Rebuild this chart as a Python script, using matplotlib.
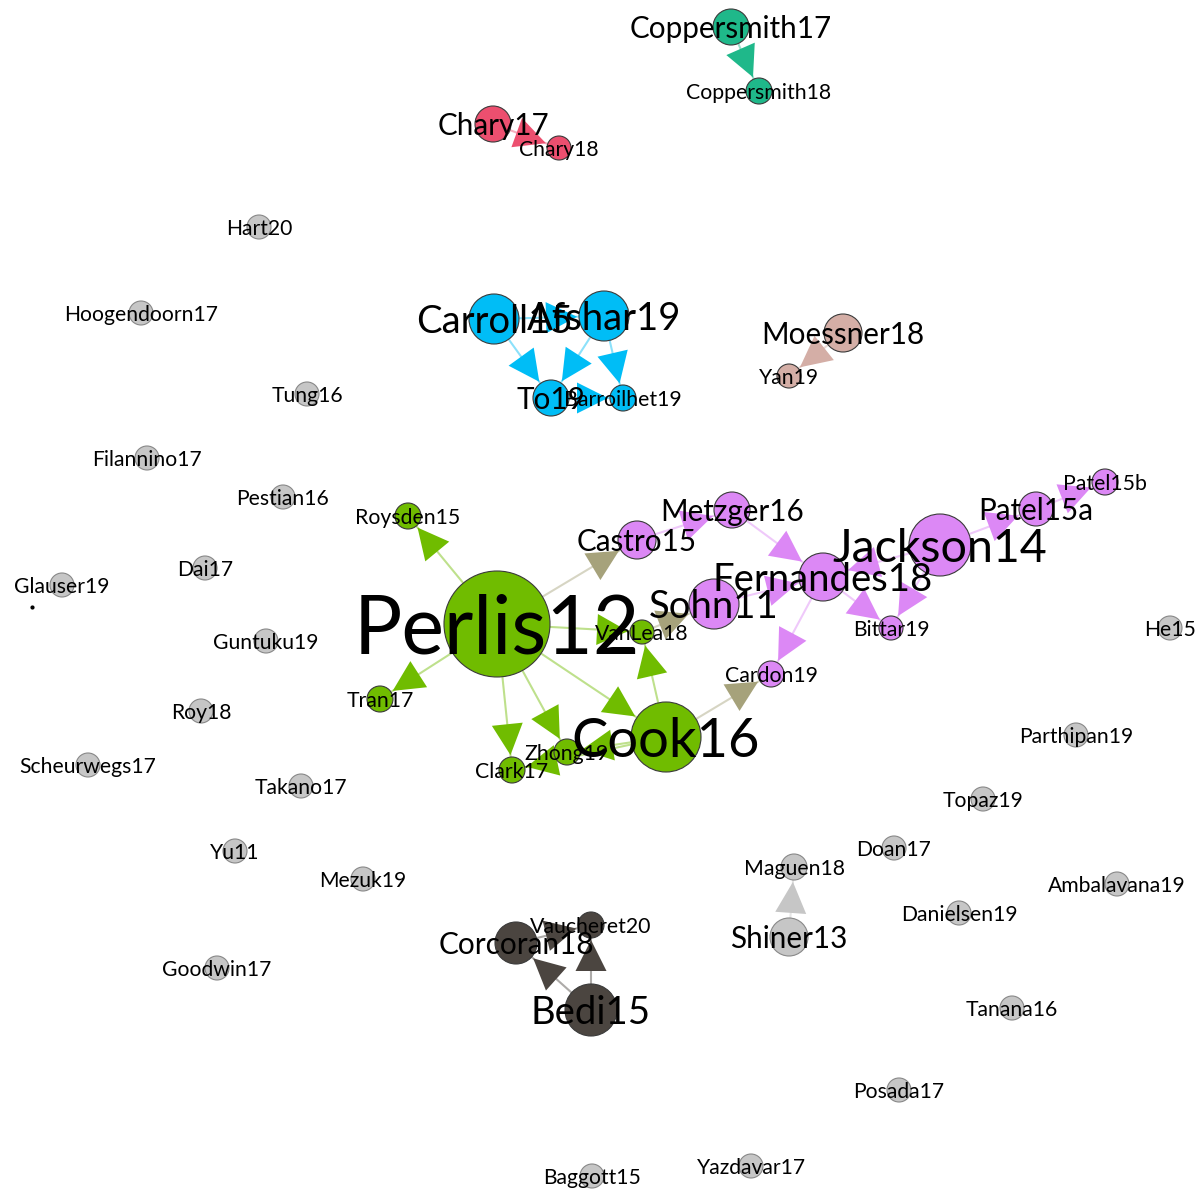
import numpy as np
import matplotlib.pyplot as plt
from matplotlib.patches import Circle, Polygon

# nodes: name, layout x/y (pixels), node size (radius), cluster
names = ["Coppersmith17", "Coppersmith18", "Chary17", "Chary18",
         "Carroll15", "Afshar19", "To19", "Barroilhet19",
         "Moessner18", "Yan19",
         "Perlis12", "Roysden15", "Tran17", "Clark17", "Zhong19", "VanLea18", "Cook16",
         "Castro15", "Metzger16", "Sohn11", "Fernandes18", "Jackson14",
         "Patel15a", "Patel15b", "Bittar19", "Cardon19",
         "Corcoran18", "Vaucheret20", "Bedi15",
         "Shiner13", "Maguen18",
         "Hart20", "Hoogendoorn17", "Tung16", "Filannino17", "Pestian16", "Dai17",
         "Glauser19", "Guntuku19", "Roy18", "Scheurwegs17", "Takano17", "Yu11",
         "Mezuk19", "Goodwin17", "Baggott15", "Yazdavar17", "Posada17", "Tanana16",
         "Danielsen19", "Ambalavana19", "Doan17", "Topaz19", "Parthipan19", "He15"]
xs = [731, 759, 493, 559,
      494, 604, 551, 623,
      843, 789,
      497, 408, 380, 512, 567, 642, 666,
      637, 732, 714, 823, 940,
      1036, 1105, 891, 771,
      516, 591, 591,
      789, 794,
      259, 141, 307, 147, 283, 205,
      62, 266, 201, 88, 301, 235,
      363, 217, 592, 751, 899, 1012,
      959, 1117, 894, 983, 1076, 1170]
ys = [27, 91, 124, 148,
      319, 316, 398, 398,
      333, 376,
      624, 516, 699, 770, 752, 632, 737,
      540, 510, 604, 577, 545,
      509, 482, 628, 674,
      943, 925, 1010,
      937, 867,
      227, 313, 394, 458, 497, 568,
      585, 641, 711, 765, 786, 851,
      879, 968, 1176, 1166, 1090, 1008,
      913, 884, 848, 799, 735, 628]
sizes = [18, 13, 18, 12,
         25, 25, 18, 13,
         19, 12,
         53, 13, 13, 13, 13, 12, 35,
         19, 18, 25, 24, 31,
         17, 13, 12, 13,
         21, 13, 26,
         19, 13] + [12] * 24
groups = ["teal"] * 2 + ["red"] * 2 + ["blue"] * 4 + ["rose"] * 2 + ["green"] * 7 \
    + ["purple"] * 9 + ["dark"] * 3 + ["gray"] * 26

# directed citations
src = ["Coppersmith17", "Chary17", "Carroll15", "Carroll15", "Afshar19", "Afshar19", "To19",
       "Moessner18", "Perlis12", "Perlis12", "Perlis12", "Perlis12", "Perlis12", "Perlis12",
       "Perlis12", "Cook16", "Cook16", "Cook16", "Cook16", "VanLea18", "Castro15", "Metzger16",
       "Sohn11", "Fernandes18", "Fernandes18", "Jackson14", "Jackson14", "Jackson14", "Patel15a",
       "Bedi15", "Bedi15", "Corcoran18", "Shiner13"]
dst = ["Coppersmith18", "Chary18", "Afshar19", "To19", "To19", "Barroilhet19", "Barroilhet19",
       "Yan19", "Roysden15", "Tran17", "Clark17", "Zhong19", "Cook16", "VanLea18",
       "Castro15", "VanLea18", "Zhong19", "Clark17", "Cardon19", "Sohn11", "Metzger16", "Fernandes18",
       "Fernandes18", "Cardon19", "Bittar19", "Fernandes18", "Bittar19", "Patel15a", "Patel15b",
       "Corcoran18", "Vaucheret20", "Vaucheret20", "Maguen18"]

colors = {"teal": "#1fb88a", "red": "#ec4f6f", "blue": "#00bdf6", "rose": "#d4aea6",
          "green": "#70bc00", "purple": "#dc88f5", "dark": "#4b4540", "gray": "#c6c6c6"}

pos = {n: (x, y) for n, x, y in zip(names, xs, ys)}
rad = dict(zip(names, sizes))
col = {n: np.array(plt.matplotlib.colors.to_rgb(colors[g])) for n, g in zip(names, groups)}


def label_size(r):
    # label size grows with node size
    return np.interp(r, [12, 13, 17, 21, 24, 26, 31, 35, 53],
                     [15.2, 15.3, 21.3, 21.4, 27.5, 27.5, 33.5, 39.2, 58])


fig = plt.figure(figsize=(11.99, 11.92), dpi=100)
ax = fig.add_axes([0, 0, 1, 1])
ax.set_xlim(0, 1199)
ax.set_ylim(1192, 0)
ax.set_aspect('equal')
ax.axis('off')

# edges + arrow heads
for s, d in zip(src, dst):
    c = (col[s] + col[d]) / 2
    x0, y0 = pos[s]
    x1, y1 = pos[d]
    ax.plot([x0, x1], [y0, y1], color=c, alpha=0.45, lw=1.5, zorder=1)
    v = np.array([x1 - x0, y1 - y0], dtype=float)
    u = v / np.hypot(*v)
    p = np.array([-u[1], u[0]])
    tip = np.array([x1, y1]) - u * (rad[d] + 2)
    base = tip - u * 31
    tri = [tip, base + p * 15.5, base - p * 15.5]
    ax.add_patch(Polygon(tri, closed=True, facecolor=c, edgecolor='none', zorder=2))

# nodes
for n, g in zip(names, groups):
    ec = '#888888' if g == 'gray' else '#3a3a3a'
    ax.add_patch(Circle(pos[n], rad[n], facecolor=colors[g], edgecolor=ec, lw=0.8, zorder=3))

# labels, cap height centred on the node (1 pt of font ~ 1 px of cap height here)
for n in names:
    fs = label_size(rad[n])
    ax.text(pos[n][0], pos[n][1] + fs / 2, n, fontsize=fs, family='Lato',
            ha='center', va='baseline', color='black', zorder=5)

ax.plot([32], [607], 'o', color='black', markersize=2, zorder=5)

plt.savefig('out.png', dpi=100)
